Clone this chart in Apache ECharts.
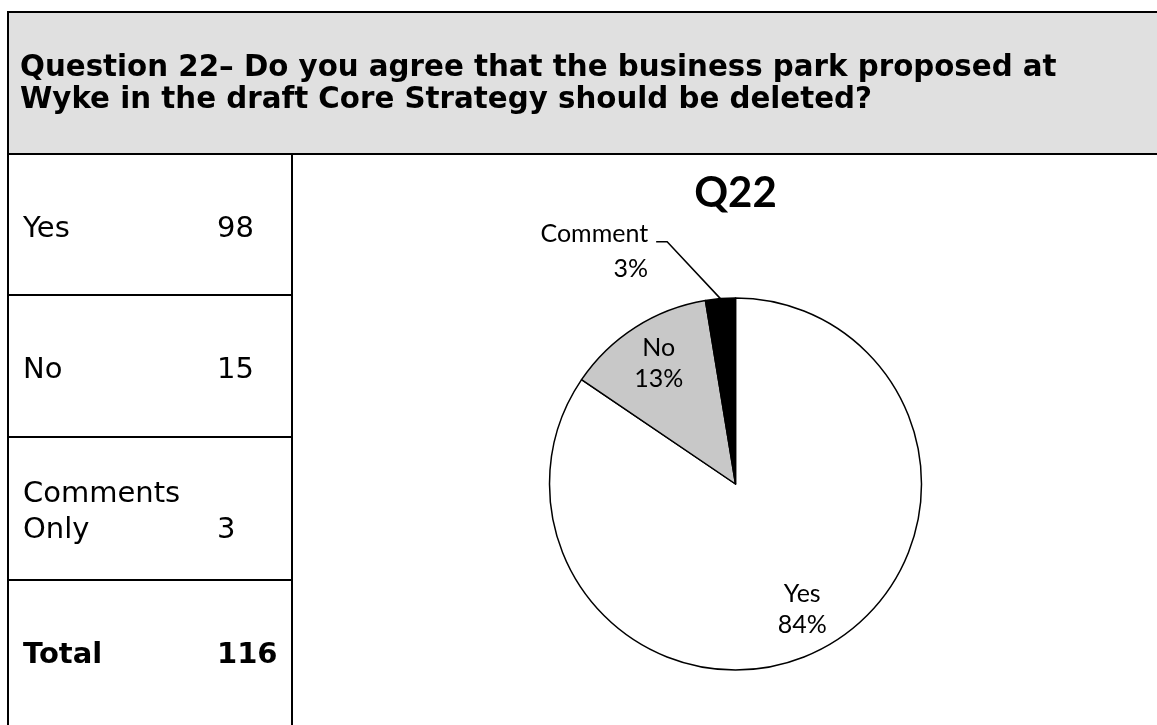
<!DOCTYPE html>
<html>
<head>
<meta charset="utf-8">
<script src="https://cdn.jsdelivr.net/npm/echarts@6/dist/echarts.min.js"></script>
<style>
  html, body { margin: 0; padding: 0; background: #ffffff; }
  #chart { width: 1157px; height: 725px; }
</style>
</head>
<body>
<div id="chart"></div>
<script>
// Survey question and response counts
const questionText = 'Question 22\u2013 Do you agree that the business park proposed at\nWyke in the draft Core Strategy should be deleted?';
const chartTitle = 'Q22';
const tableLabels = ['Yes', 'No', 'Comments\nOnly', 'Total'];
const tableValues = [98, 15, 3, 116];
const pieNames = ['Yes', 'No', 'Comment'];
const pieValues = [98, 15, 3];
const pieColors = ['#ffffff', '#c8c8c8', '#000000'];

// Page layout (pixels)
const frameLeft = 8, frameTop = 12, headerBottom = 154, colRight = 292;
const rowTops = [154, 295, 437, 580];
const rowHeight = 142;
const labelX = 23, valueX = 217;
const tableFont = '29px "DejaVu Sans", Verdana, sans-serif';
const tableFontBold = 'bold 29px "DejaVu Sans", Verdana, sans-serif';
const headerFont = 'bold 29.3px "DejaVu Sans", Verdana, sans-serif';
const tableLineHeight = 36;
const pieCenter = [735.5, 484];
const pieRadius = 186;
const pieFont = 'Lato, "Noto Sans", sans-serif';

const chart = echarts.init(document.getElementById('chart'), null, { renderer: 'canvas' });

const graphics = [];
// header band
graphics.push({
  type: 'rect', silent: true,
  shape: { x: frameLeft, y: frameTop, width: 1157 - frameLeft + 20, height: headerBottom - frameTop },
  style: { fill: '#e0e0e0', stroke: '#000', lineWidth: 2 }
});
graphics.push({
  type: 'text', silent: true,
  style: {
    x: 20, y: 84,
    text: questionText,
    font: headerFont, lineHeight: 32,
    fill: '#000', verticalAlign: 'middle', align: 'left'
  }
});
// left table column borders
graphics.push({ type: 'line', silent: true, shape: { x1: frameLeft, y1: headerBottom, x2: frameLeft, y2: 740 }, style: { stroke: '#000', lineWidth: 2 } });
graphics.push({ type: 'line', silent: true, shape: { x1: colRight, y1: headerBottom, x2: colRight, y2: 740 }, style: { stroke: '#000', lineWidth: 2 } });
rowTops.slice(1).forEach(function (y) {
  graphics.push({ type: 'line', silent: true, shape: { x1: frameLeft, y1: y, x2: colRight, y2: y }, style: { stroke: '#000', lineWidth: 2 } });
});
// table cells
tableLabels.forEach(function (lab, i) {
  const isTotal = i === tableLabels.length - 1;
  const nLines = lab.split('\n').length;
  const cy = rowTops[i] + rowHeight / 2 + 4;
  graphics.push({
    type: 'text', silent: true,
    style: {
      x: labelX, y: cy, text: lab,
      font: isTotal ? tableFontBold : tableFont, lineHeight: tableLineHeight,
      fill: '#000', verticalAlign: 'middle', align: 'left'
    }
  });
  graphics.push({
    type: 'text', silent: true,
    style: {
      x: valueX, y: cy + (nLines - 1) * tableLineHeight / 2, text: String(tableValues[i]),
      font: isTotal ? tableFontBold : tableFont,
      fill: '#000', verticalAlign: 'middle', align: 'left'
    }
  });
});
// chart title
graphics.push({
  type: 'text', silent: true,
  style: {
    x: pieCenter[0], y: 193, text: chartTitle,
    font: 'bold 42px ' + pieFont, fill: '#000', align: 'center', verticalAlign: 'middle'
  }
});

const pieData = pieNames.map(function (n, i) {
  return { name: n, value: pieValues[i], itemStyle: { color: pieColors[i] } };
});

const labelData = pieNames.map(function (n, i) {
  const item = { name: n, value: pieValues[i] };
  if (i === 2) {
    item.label = { position: 'outside', lineHeight: 35 };
    item.labelLine = { show: true, length: 40, length2: 12, lineStyle: { color: '#000', width: 1.5 } };
  }
  return item;
});

// Outside label is pulled up-left; its leader runs from the slice edge
// diagonally to a short horizontal tail beside the text.
const outsideShift = { dx: -52, dy: -7 };
function layoutLabels(params) {
  if (params.dataIndex !== 2 || !params.labelLinePoints) return {};
  const rect = params.labelRect;
  const start = params.labelLinePoints[0];
  const right = rect.x + rect.width + outsideShift.dx;
  const tailY = rect.y + outsideShift.dy + rect.height / 2 - 10;
  return {
    dx: outsideShift.dx,
    dy: outsideShift.dy,
    labelLinePoints: [
      [start[0], start[1]],
      [right + 19, tailY],
      [right + 8, tailY]
    ]
  };
}

chart.setOption({
  animation: false,
  backgroundColor: '#ffffff',
  graphic: graphics,
  series: [
    {
      type: 'pie',
      center: pieCenter,
      radius: pieRadius,
      startAngle: 90,
      clockwise: true,
      silent: true,
      label: { show: false },
      labelLine: { show: false },
      itemStyle: { borderColor: '#000', borderWidth: 1.5 },
      data: pieData
    },
    {
      // label ring: places inside labels part-way out from the centre
      type: 'pie',
      center: pieCenter,
      radius: [pieRadius / 2, pieRadius],
      startAngle: 90,
      clockwise: true,
      silent: true,
      percentPrecision: 0,
      avoidLabelOverlap: false,
      itemStyle: { color: 'rgba(0,0,0,0)', borderWidth: 0 },
      label: {
        show: true, position: 'inside',
        formatter: '{b}\n{d}%',
        fontFamily: pieFont, fontSize: 25, lineHeight: 31, color: '#000'
      },
      labelLine: { show: false },
      labelLayout: layoutLabels,
      data: labelData
    }
  ]
});
</script>
</body>
</html>
